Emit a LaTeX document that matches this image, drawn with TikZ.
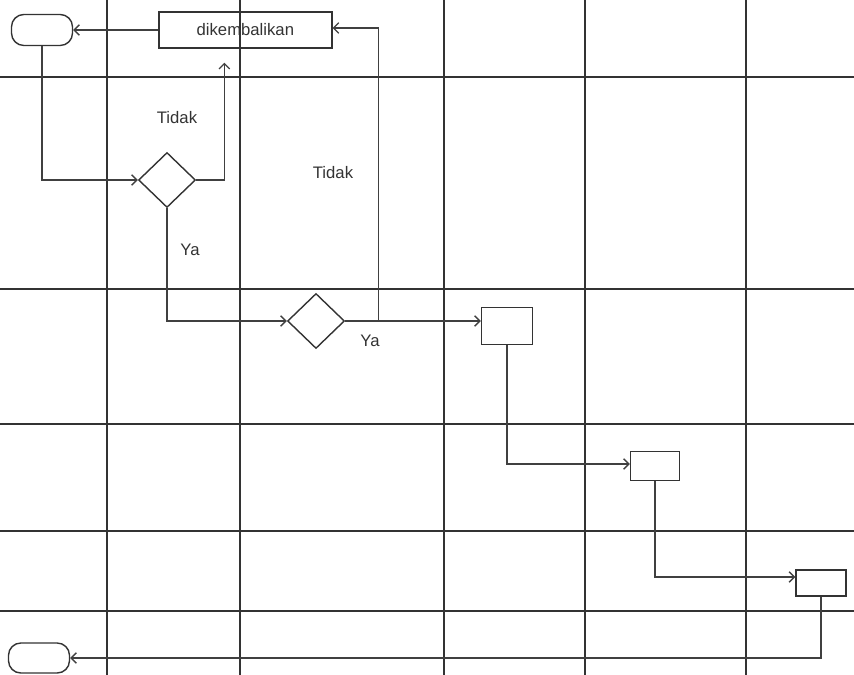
\documentclass[tikz,border=0pt]{standalone}
\usepackage{fontspec}
\setmainfont{Liberation Sans}
\usetikzlibrary{positioning,calc,shapes.geometric,arrows.meta}

\begin{document}
\begin{tikzpicture}[x=0.02cm,y=-0.02cm,
    font=\fontsize{9.5}{11}\selectfont,
    grid/.style={draw=black!80,line width=1pt},
    flow/.style={draw=black!75,line width=0.75pt,-{Straight Barb[length=3pt,width=6pt]}},
    term/.style={draw=black!80,line width=0.8pt,rounded corners=7pt,minimum width=1.22cm,minimum height=0.62cm,inner sep=0pt},
    box/.style={draw=black!80,line width=0.8pt,inner sep=0pt},
    decision/.style={draw=black!80,line width=0.8pt,diamond,minimum width=1.14cm,minimum height=1.1cm,inner sep=0pt}]
    \useasboundingbox (0,0) rectangle (854,675);

    % swimlane grid
    \foreach \x in {107,240,444,585,746}
        \draw[grid] (\x,0) -- (\x,675);
    \foreach \y in {77,289,424,531,611}
        \draw[grid] (0,\y) -- (854,\y);

    \node[term] (a1) at (42,30) {};
    \node[box,right=1.7cm of a1,minimum width=3.46cm,minimum height=0.72cm,text=black!80] (a2) {dikembalikan};
    \coordinate (a3) at ($(a2.south)+(-21,14)$);

    \node[decision] (b1) at (167,180) {};
    \node[text=black!80] at ($(b1)+(10,-62)$) (b2) {Tidak};
    \node[text=black!80] at ($(b1)+(23,70)$) (b3) {Ya};

    \node[decision] (c1) at (316,321) {};
    \coordinate (c2) at ($(c1.east)+(33.5,0)$);
    \node[text=black!80] at ($(c1)+(17,-148)$) (c3) {Tidak};
    \node[text=black!80] at ($(c1)+(54,20)$) (c4) {Ya};

    \node[box,minimum width=1.02cm,minimum height=0.74cm] (d1) at (507,326) {};
    \node[box,minimum width=0.98cm,minimum height=0.58cm] (e1) at (655,466) {};
    \node[box,minimum width=1cm,minimum height=0.52cm] (f1) at (821,583) {};
    \node[term,minimum height=0.6cm] (g1) at (39,658) {};

    \draw[flow] (a2) -- (a1);
    \draw[flow] (a1) |- (b1);
    \draw[flow] (b1) -| (a3);
    \draw[flow] (b1) |- (c1);
    \draw[flow] (c1.east) -- (c2) |- ($(a2.east)+(0,-2)$);
    \draw[flow] (c2) -- (c2 -| d1.west);
    \draw[flow] (d1) |- ($(e1.west)+(0,-2)$);
    \draw[flow] (e1) |- ($(f1.west)+(0,-6)$);
    \draw[flow] (f1) |- (g1);
\end{tikzpicture}
\end{document}
